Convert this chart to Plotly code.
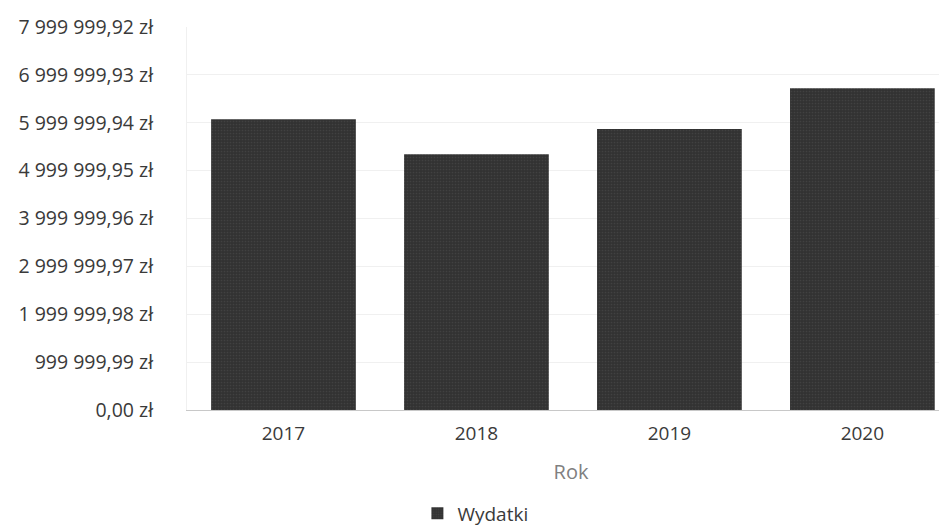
import plotly.graph_objects as go

# Dane
years = ["2017", "2018", "2019", "2020"]
wydatki = [6075000, 5340000, 5870000, 6720000]
tick_values = [0, 999999.99, 1999999.98, 2999999.97, 3999999.96,
               4999999.95, 5999999.94, 6999999.93, 7999999.92]


def pl_money(v):
    s = f"{v:,.2f}"
    return s.replace(",", " ").replace(".", ",") + " zł"


tick_labels = [pl_money(v) for v in tick_values]

fig = go.Figure()
fig.add_trace(go.Bar(
    x=years, y=wydatki, name="Wydatki",
    marker=dict(color="#323232", line=dict(width=0),
                pattern=dict(shape=".", fgcolor="#505050", size=3, solidity=0.25)),
    showlegend=True,
))

fig.update_layout(
    width=947, height=530,
    margin=dict(l=179, r=0, t=19, b=128),
    paper_bgcolor="white", plot_bgcolor="white",
    font=dict(family="Open Sans, sans-serif", size=20, color="#3a3a3a"),
    bargap=0.25,
    showlegend=True,
    legend=dict(orientation="h", x=0.30, xanchor="left", y=-0.27, yanchor="middle",
                font=dict(size=19, color="#3a3a3a")),
    xaxis=dict(
        type="category", range=[-0.5, 3.48],
        showline=True, linecolor="#c8c8c8", linewidth=1,
        showgrid=False, ticks="",
        ticklabelstandoff=6,
        tickfont=dict(size=19, color="#3a3a3a"),
        title=dict(text="Rok", font=dict(size=20, color="#808080"), standoff=20),
    ),
    yaxis=dict(
        range=[0, 7999999.92],
        tickvals=tick_values, ticktext=tick_labels,
        showgrid=True, gridcolor="#f0f0f0", gridwidth=1,
        showline=True, linecolor="#f0f0f0",
        zeroline=False,
        tickfont=dict(size=19.5, color="#3a3a3a"),
        ticklabelstandoff=29,
    ),
)

fig.write_html("out.html")
